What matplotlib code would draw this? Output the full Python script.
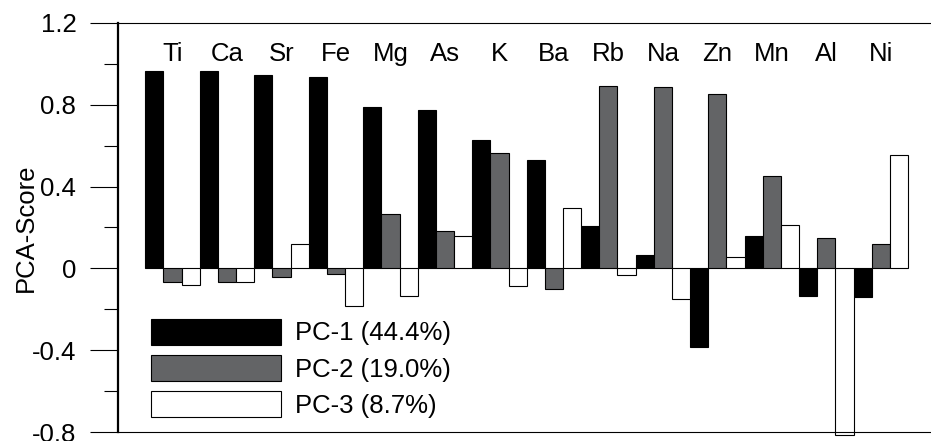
import numpy as np
import matplotlib
matplotlib.use("Agg")
import matplotlib.pyplot as plt

plt.rcParams['font.family'] = ['Liberation Sans', 'DejaVu Sans']

elements = ["Ti", "Ca", "Sr", "Fe", "Mg", "As", "K", "Ba", "Rb", "Na", "Zn", "Mn", "Al", "Ni"]
pc1 = [0.965, 0.963, 0.946, 0.933, 0.789, 0.776, 0.628, 0.528, 0.208, 0.068, -0.383, 0.160, -0.134, -0.137]
pc2 = [-0.065, -0.068, -0.041, -0.028, 0.264, 0.182, 0.564, -0.100, 0.892, 0.887, 0.853, 0.450, 0.148, 0.120]
pc3 = [-0.082, -0.068, 0.117, -0.183, -0.136, 0.160, -0.085, 0.294, -0.034, -0.147, 0.054, 0.213, -0.812, 0.553]
series_labels = ["PC-1 (44.4%)", "PC-2 (19.0%)", "PC-3 (8.7%)"]
ytick_vals = [-0.8, -0.4, 0.0, 0.4, 0.8, 1.2]
ytick_labels = ["-0.8", "-0.4", "0", "0.4", "0.8", "1.2"]

FS = 18.5
W, H = 931, 441
fig = plt.figure(figsize=(W / 100, H / 100), dpi=100)
ax = fig.add_axes([118 / W, (H - 432.3) / H, 1 - 118 / W, (432.3 - 22.7) / H])

x = np.arange(len(elements))
bw = 1 / 3.
kw = dict(width=bw, edgecolor='black', linewidth=0.8, clip_on=False)
b1 = ax.bar(x - bw, pc1, color='black', label=series_labels[0], **kw)
b2 = ax.bar(x, pc2, color='#636466', label=series_labels[1], **kw)
b3 = ax.bar(x + bw, pc3, color='white', label=series_labels[2], **kw)

for i, name in enumerate(elements):
    ax.text(i, 1.014, name, ha='center', va='baseline', fontsize=FS)

ax.set_xlim(-1.0, 13.92)
ax.set_ylim(-0.8, 1.2)
ax.set_xticks([])
ax.set_yticks(ytick_vals)
ax.set_yticklabels(ytick_labels, fontsize=FS)
ax.set_yticks(np.arange(-0.6, 1.1, 0.4), minor=True)
ax.tick_params(axis='y', which='major', length=20, width=0.8, pad=10)
ax.tick_params(axis='y', which='minor', length=10, width=0.8)

ax.spines['right'].set_visible(False)
ax.spines['left'].set_linewidth(1.6)
ax.spines['top'].set_linewidth(0.8)
ax.spines['bottom'].set_linewidth(0.8)

ax.set_ylabel("PCA-Score", fontsize=FS)
ax.yaxis.set_label_coords(-0.098, 0.5)

leg = ax.legend(handles=[b1, b2, b3], loc='lower left', frameon=False, fontsize=FS,
                bbox_to_anchor=(151 / W, (H - 417.7) / H), bbox_transform=fig.transFigure,
                borderpad=0, borderaxespad=0, handlelength=5.06, handleheight=1.17,
                labelspacing=0.37, handletextpad=0.55)

fig.savefig("out.png", dpi=100)
